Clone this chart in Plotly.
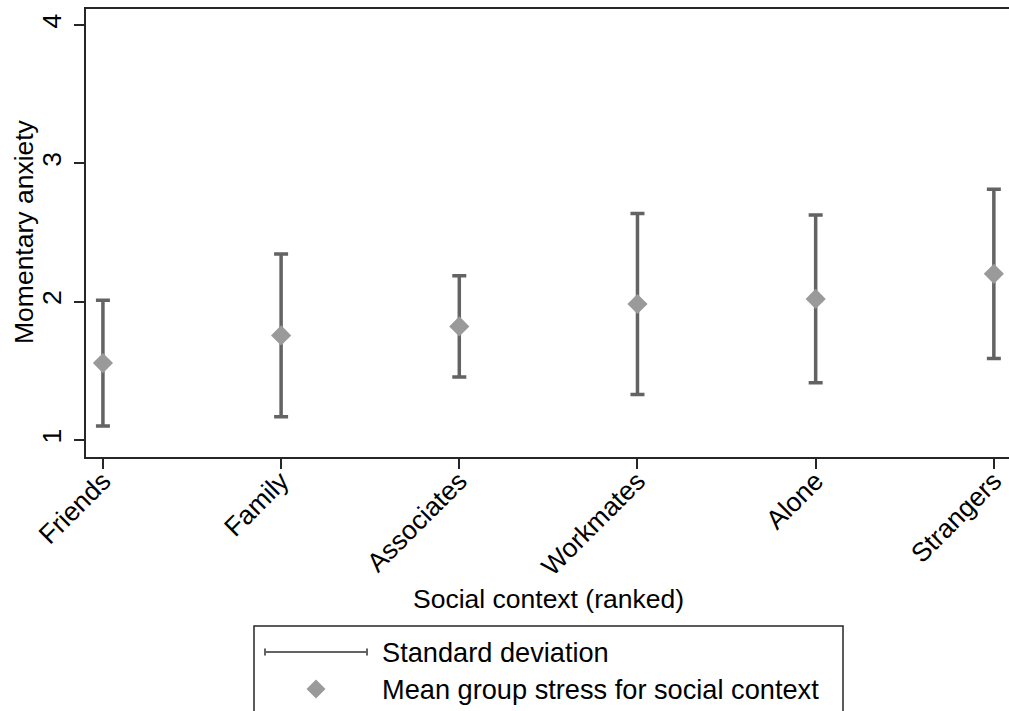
import plotly.graph_objects as go

categories = ["Friends", "Family", "Associates", "Workmates", "Alone", "Strangers"]
means = [1.556, 1.756, 1.821, 1.983, 2.020, 2.201]
sds = [0.455, 0.588, 0.366, 0.655, 0.607, 0.612]
y_ticks = [1, 2, 3, 4]

W, H = 1009, 711
L, R, T, B = 86, 0, 9, 254
PW = W - L - R
PH = H - T - B

def px(x):
    return (x - L) / PW

def py(y):
    return (H - B - y) / PH

FONT = "Liberation Sans, Arial, sans-serif"
FS = 26.5
BAR = "#636363"
DIA = "#9a9a9a"
AX = "#262626"

xs = list(range(len(categories)))

fig = go.Figure()
fig.add_trace(go.Scatter(
    x=xs, y=means, mode="markers",
    marker=dict(symbol="diamond", size=15.5, color=DIA, line=dict(width=0)),
    error_y=dict(type="data", array=sds, visible=True, color=BAR,
                 thickness=3.5, width=7),
    showlegend=False, hoverinfo="skip",
))

fig.update_layout(
    width=W, height=H,
    margin=dict(l=L, r=R, t=T, b=B, pad=0),
    paper_bgcolor="white", plot_bgcolor="white",
    font=dict(family=FONT, size=FS, color="black"),
    showlegend=False,
    xaxis=dict(
        range=[-0.095, 5.085], tickmode="array", tickvals=xs, ticktext=categories,
        tickangle=-45, ticks="outside", ticklen=10, tickwidth=2, tickcolor=AX,
        showline=True, linecolor=AX, linewidth=2, mirror=True,
        showgrid=False, zeroline=False, tickfont=dict(size=FS),
        ticklabelstandoff=-14,
    ),
    yaxis=dict(
        range=[0.877, 4.116], tickmode="array", tickvals=y_ticks,
        ticktext=[str(v) for v in y_ticks],
        tickangle=-90, ticks="outside", ticklen=10, tickwidth=2, tickcolor=AX,
        showline=True, linecolor=AX, linewidth=2,
        showgrid=False, zeroline=False, tickfont=dict(size=FS),
        ticklabelstandoff=2,
    ),
)

annotations = [
    dict(text="Momentary anxiety", xref="paper", yref="paper", x=px(24), y=py(232),
         xanchor="center", yanchor="middle", textangle=-90, showarrow=False,
         font=dict(size=FS)),
    dict(text="Social context (ranked)", xref="paper", yref="paper", x=px(548), y=py(599),
         xanchor="center", yanchor="middle", showarrow=False, font=dict(size=FS)),
    dict(text="Standard deviation", xref="paper", yref="paper", x=px(380), y=py(652),
         xanchor="left", yanchor="middle", showarrow=False, font=dict(size=27.2)),
    dict(text="Mean group stress for social context", xref="paper", yref="paper",
         x=px(380), y=py(689), xanchor="left", yanchor="middle", showarrow=False,
         font=dict(size=27.2)),
]
fig.update_layout(annotations=annotations)

shapes = [
    # legend box
    dict(type="rect", xref="paper", yref="paper", x0=px(254), x1=px(843),
         y0=py(626), y1=py(716), line=dict(color=AX, width=1.5), fillcolor="rgba(0,0,0,0)"),
    # legend line sample
    dict(type="line", xref="paper", yref="paper", x0=px(265), x1=px(367),
         y0=py(652), y1=py(652), line=dict(color=BAR, width=2)),
    dict(type="line", xref="paper", yref="paper", x0=px(265), x1=px(265),
         y0=py(648.5), y1=py(655.5), line=dict(color=BAR, width=2)),
    dict(type="line", xref="paper", yref="paper", x0=px(367), x1=px(367),
         y0=py(648.5), y1=py(655.5), line=dict(color=BAR, width=2)),
]
cx, cy, r = 316, 689, 9.5
path = "M {} {} L {} {} L {} {} L {} {} Z".format(
    px(cx), py(cy - r), px(cx + r), py(cy), px(cx), py(cy + r), px(cx - r), py(cy))
shapes.append(dict(type="path", xref="paper", yref="paper", path=path,
                   fillcolor=DIA, line=dict(width=0)))
fig.update_layout(shapes=shapes)

fig.write_html("out.html")
